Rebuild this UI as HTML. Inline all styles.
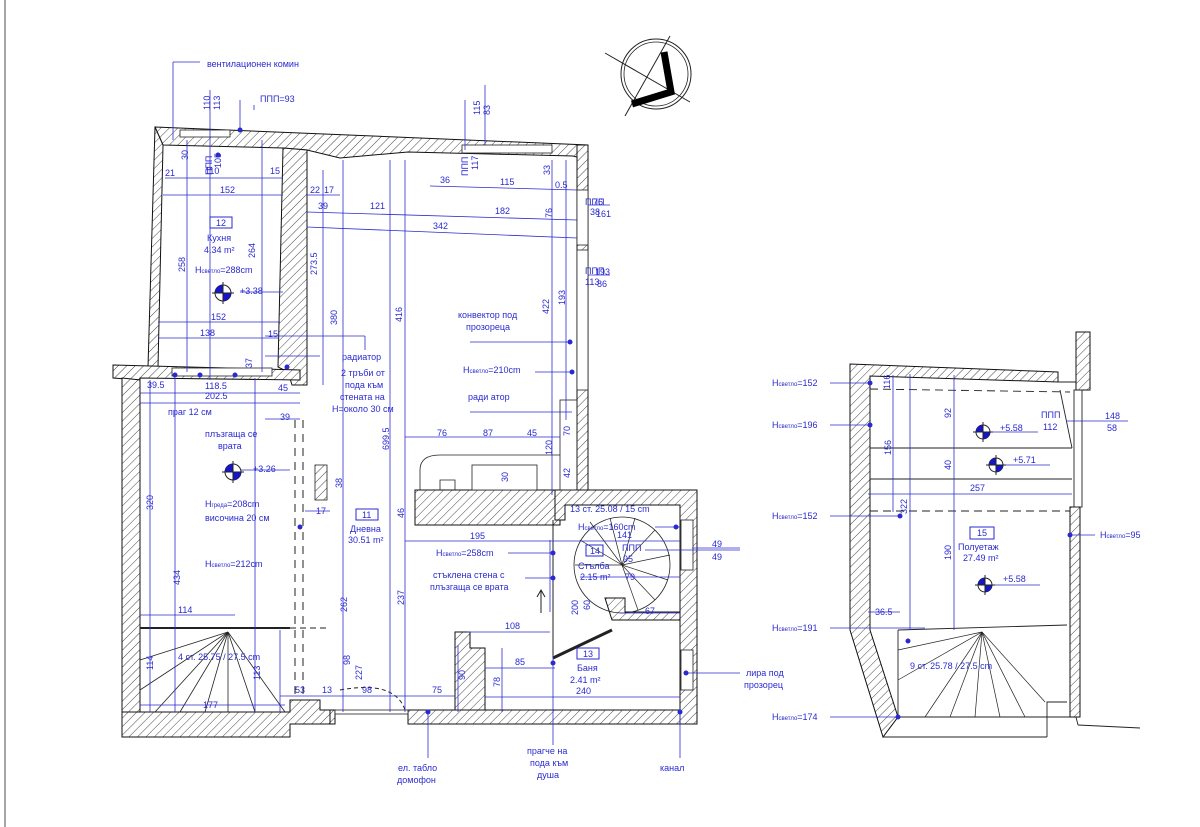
<!DOCTYPE html>
<html><head><meta charset="utf-8"><style>
html,body{margin:0;padding:0;background:#fff;}
svg{display:block;}
text{font-family:"Liberation Sans",sans-serif;font-size:9px;fill:#2a2ad0;}
.k{fill:#222;}
</style></head><body>
<svg width="1200" height="827" viewBox="0 0 1200 827" xmlns="http://www.w3.org/2000/svg">
<defs>
<pattern id="h" width="6" height="6" patternUnits="userSpaceOnUse" patternTransform="rotate(45)">
<rect width="6" height="6" fill="#fff"/><line x1="0" y1="0" x2="0" y2="6" stroke="#333" stroke-width="0.9"/>
</pattern>
</defs>
<line x1="5" y1="0" x2="5" y2="827" stroke="#888" stroke-width="1.5"/>

<!-- north arrow -->
<g stroke="#222" fill="none">
<circle cx="656" cy="74" r="35" stroke-width="1"/><circle cx="656" cy="74" r="32" stroke-width="0.8"/>
<line x1="605" y1="53" x2="690" y2="102"/><line x1="625" y1="116" x2="670" y2="36"/>
<polyline points="664,52 671,92 632,104" stroke="#000" stroke-width="7" stroke-linejoin="miter"/>
</g>

<!-- ===== MAIN PLAN WALLS ===== -->
<g stroke="#111" stroke-width="1" fill="url(#h)">
<!-- top wall -->
<polygon points="155,127 588,145 588,160 573,156 408,152 340,158 307,150 283,148 163,145"/>
<!-- kitchen left wall -->
<polygon points="155,127 163,145 158,367 148,367"/>
<!-- kitchen right walls -->
<polygon points="283,148 307,150 307,385 292,385 288,372 278,367"/>
<!-- kitchen bottom / left room top -->
<polygon points="113,365 300,370 300,380 140,378 140,380 113,378"/>
<!-- left outer wall -->
<polygon points="122,378 140,380 140,712 122,712"/>
<!-- bottom-left wall -->
<polygon points="122,712 290,712 290,700 320,700 320,710 330,710 330,724 290,724 290,737 122,737"/>
<!-- main bottom wall -->
<polygon points="330,710 335,710 335,724 330,724"/>
<polygon points="408,710 695,710 695,724 408,724"/>
<!-- right wall living -->
<polygon points="577,145 588,145 588,495 577,495"/>
<!-- counter block -->
<polygon points="415,490 560,490 560,525 415,525"/>
<!-- stair block -->
<polygon points="555,490 697,490 697,724 680,724 680,505 565,505 565,520 555,520"/>
<!-- bath left L -->
<polygon points="455,632 470,632 470,648 485,648 485,710 455,710"/>
<!-- bath top wall -->
<polygon points="605,598 625,598 625,612 680,612 680,620 612,620"/>
</g>
<!-- window frames -->
<g stroke="#222" fill="#fff" stroke-width="0.8">
<rect x="180" y="130" width="50" height="7"/><rect x="462" y="145" width="90" height="8"/>
<rect x="577" y="190" width="11" height="55"/><rect x="577" y="250" width="11" height="140"/>
<rect x="172" y="368" width="100" height="8"/>
<rect x="335" y="710" width="73" height="4"/>
<rect x="681" y="520" width="12" height="50"/><rect x="681" y="650" width="12" height="40"/>
<rect x="560" y="400" width="17" height="90" fill="none"/>
<rect x="315" y="465" width="12" height="35" fill="url(#h)"/>
<path d="M440,490 V480 H455 V490 M420,490 V470 Q420,455 440,455 H560" fill="none"/>
<rect x="472" y="465" width="65" height="25"/>
</g>
<!-- inner lines -->
<g stroke="#222" fill="none" stroke-width="1">
<line x1="140" y1="628" x2="290" y2="628" stroke-width="2"/>
<line x1="290" y1="628" x2="330" y2="628" stroke-dasharray="6,4"/>
<line x1="295" y1="420" x2="295" y2="700" stroke-dasharray="8,6"/>
<line x1="303" y1="420" x2="303" y2="700" stroke-dasharray="8,6"/>
<path d="M340,690 Q395,680 405,710" stroke-dasharray="4,3"/>
<line x1="553" y1="520" x2="553" y2="658"/>
<line x1="553" y1="658" x2="612" y2="630" stroke-width="3"/>
<path d="M541,613 V590 M537,597 L541,590 L545,597"/>
<!-- stair fan left -->
<g stroke-width="0.8">
<line x1="228" y1="632" x2="140" y2="660"/><line x1="228" y1="632" x2="140" y2="690"/>
<line x1="228" y1="632" x2="155" y2="712"/><line x1="228" y1="632" x2="180" y2="712"/>
<line x1="228" y1="632" x2="205" y2="712"/><line x1="228" y1="632" x2="228" y2="712"/>
<line x1="228" y1="632" x2="255" y2="712"/><line x1="228" y1="632" x2="285" y2="712"/>
</g>
<!-- spiral stair -->
<circle cx="622" cy="565" r="48" stroke-width="0.8"/>
<g stroke-width="0.7">
<line x1="622" y1="565" x2="580" y2="540"/><line x1="622" y1="565" x2="590" y2="522"/>
<line x1="622" y1="565" x2="610" y2="518"/><line x1="622" y1="565" x2="635" y2="518"/>
<line x1="622" y1="565" x2="655" y2="530"/><line x1="622" y1="565" x2="670" y2="555"/>
<line x1="622" y1="565" x2="668" y2="580"/><line x1="622" y1="565" x2="655" y2="600"/>
<line x1="622" y1="565" x2="638" y2="610"/><line x1="622" y1="565" x2="575" y2="565"/>
</g>
</g>

<!-- ===== DIMENSIONS (blue) ===== -->
<g stroke="#2a2ad0" stroke-width="0.8" fill="none">
<!-- verticals -->
<line x1="173" y1="62" x2="173" y2="140"/><line x1="173" y1="62" x2="200" y2="62"/>
<line x1="210" y1="90" x2="210" y2="380"/><line x1="240" y1="100" x2="240" y2="130"/>
<line x1="187" y1="140" x2="187" y2="372"/><line x1="262" y1="140" x2="262" y2="372"/>
<line x1="254" y1="110" x2="254" y2="105"/>
<line x1="323" y1="170" x2="323" y2="385"/><line x1="343" y1="160" x2="343" y2="712"/>
<line x1="390" y1="160" x2="390" y2="712"/><line x1="405" y1="160" x2="405" y2="712"/>
<line x1="552" y1="160" x2="552" y2="495"/><line x1="566" y1="160" x2="566" y2="420"/>
<line x1="465" y1="100" x2="465" y2="150"/><line x1="485" y1="85" x2="485" y2="145"/>
<line x1="150" y1="380" x2="150" y2="712"/><line x1="175" y1="378" x2="175" y2="712"/>
<line x1="255" y1="378" x2="255" y2="712"/><line x1="280" y1="630" x2="280" y2="712"/>
<line x1="458" y1="645" x2="458" y2="712"/><line x1="502" y1="648" x2="502" y2="712"/>
<line x1="550" y1="540" x2="550" y2="612"/>
<!-- horizontals -->
<line x1="165" y1="178" x2="283" y2="178"/><line x1="163" y1="195" x2="283" y2="195"/>
<line x1="158" y1="322" x2="280" y2="322"/><line x1="158" y1="338" x2="278" y2="338"/>
<line x1="307" y1="195" x2="340" y2="195"/><line x1="307" y1="212" x2="577" y2="220"/>
<line x1="307" y1="227" x2="577" y2="238"/><line x1="430" y1="186" x2="577" y2="190"/>
<line x1="140" y1="393" x2="300" y2="393"/><line x1="140" y1="403" x2="300" y2="403"/>
<line x1="265" y1="419" x2="300" y2="419"/>
<line x1="405" y1="437" x2="560" y2="437"/>
<line x1="405" y1="541" x2="680" y2="541"/>
<line x1="140" y1="615" x2="235" y2="615"/>
<line x1="140" y1="705" x2="285" y2="705"/>
<line x1="280" y1="696" x2="405" y2="696"/><line x1="405" y1="696" x2="455" y2="696"/>
<line x1="467" y1="632" x2="550" y2="632"/>
<line x1="485" y1="668" x2="555" y2="668"/><line x1="485" y1="697" x2="680" y2="697"/>
<line x1="620" y1="613" x2="680" y2="613"/>
<line x1="580" y1="577" x2="680" y2="577"/>
<line x1="305" y1="511" x2="330" y2="511"/>
<!-- leaders -->
<line x1="240" y1="292" x2="283" y2="292"/>
<line x1="235" y1="470" x2="290" y2="470"/>
<line x1="265" y1="336" x2="365" y2="336"/><line x1="365" y1="336" x2="365" y2="350"/>
<line x1="265" y1="356" x2="320" y2="356"/>
<line x1="470" y1="342" x2="570" y2="342"/>
<line x1="535" y1="372" x2="572" y2="372"/>
<line x1="470" y1="412" x2="572" y2="412"/>
<line x1="508" y1="553" x2="555" y2="553"/><line x1="525" y1="578" x2="555" y2="578"/>
<line x1="655" y1="527" x2="680" y2="527"/>
<line x1="645" y1="550" x2="740" y2="550"/>
<line x1="686" y1="673" x2="740" y2="673"/>
<line x1="428" y1="712" x2="428" y2="758"/><line x1="553" y1="655" x2="553" y2="745"/>
<line x1="680" y1="712" x2="680" y2="758"/>
<line x1="588" y1="205" x2="610" y2="205"/><line x1="588" y1="275" x2="610" y2="275"/>
<line x1="692" y1="548" x2="740" y2="548"/>
</g>
<g fill="#2a2ad0">
<circle cx="218" cy="155" r="2.5"/><circle cx="240" cy="130" r="2.5"/>
<circle cx="175" cy="375" r="2.5"/><circle cx="200" cy="375" r="2.5"/><circle cx="235" cy="375" r="2.5"/>
<circle cx="287" cy="367" r="2.5"/><circle cx="570" cy="342" r="2.5"/><circle cx="572" cy="372" r="2.5"/>
<circle cx="553" cy="553" r="2.5"/><circle cx="553" cy="578" r="2.5"/><circle cx="428" cy="712" r="2.5"/>
<circle cx="553" cy="663" r="2.5"/><circle cx="680" cy="712" r="2.5"/><circle cx="676" cy="527" r="2.5"/>
<circle cx="686" cy="673" r="2.5"/><circle cx="300" cy="527" r="2.5"/>
</g>
<!-- level markers -->
<g>
<g transform="translate(223,293)"><circle r="8" fill="#fff" stroke="#222"/><path d="M0,-8 A8,8 0 0,0 -8,0 L0,0Z M0,8 A8,8 0 0,0 8,0 L0,0Z" fill="#1616c8"/><line x1="0" y1="-11" x2="0" y2="11" stroke="#222"/><line x1="-11" y1="0" x2="11" y2="0" stroke="#222"/></g>
<g transform="translate(233,472)"><circle r="8" fill="#fff" stroke="#222"/><path d="M0,-8 A8,8 0 0,0 -8,0 L0,0Z M0,8 A8,8 0 0,0 8,0 L0,0Z" fill="#1616c8"/><line x1="0" y1="-11" x2="0" y2="11" stroke="#222"/><line x1="-11" y1="0" x2="11" y2="0" stroke="#222"/></g>
</g>

<!-- labels main plan -->
<text x="207" y="67">вентилационен комин</text>
<text x="260" y="102">ППП=93</text>
<text transform="translate(210,110) rotate(-90)">110</text>
<text transform="translate(220,110) rotate(-90)">113</text>
<text transform="translate(480,115) rotate(-90)">115</text>
<text transform="translate(490,115) rotate(-90)">83</text>
<text transform="translate(188,160) rotate(-90)">30</text>
<text transform="translate(212,175) rotate(-90)">ППП</text>
<text transform="translate(221,168) rotate(-90)">105</text>
<text transform="translate(468,176) rotate(-90)">ППП</text>
<text transform="translate(478,170) rotate(-90)">117</text>
<text x="165" y="176">21</text><text x="205" y="174">110</text><text x="270" y="174">15</text>
<text x="220" y="193">152</text>
<rect x="210" y="217" width="22" height="11" fill="none" stroke="#2a2ad0"/>
<text x="216" y="226">12</text>
<text x="207" y="241">Кухня</text><text x="204" y="253">4.34 m²</text>
<text x="195" y="273">H<tspan font-size="6">светло</tspan>=288cm</text>
<text x="240" y="294">+3.38</text>
<text transform="translate(185,272) rotate(-90)">258</text>
<text transform="translate(255,258) rotate(-90)">264</text>
<text x="211" y="320">152</text><text x="200" y="336">138</text>
<text x="268" y="337">15</text><text transform="translate(252,368) rotate(-90)">37</text>
<text x="310" y="193">22</text><text x="324" y="193">17</text><text x="318" y="209">39</text>
<text x="370" y="209">121</text><text x="495" y="214">182</text><text x="433" y="229">342</text>
<text x="440" y="183">36</text><text x="500" y="185">115</text><text x="555" y="188">0.5</text>
<text transform="translate(550,175) rotate(-90)">33</text>
<text x="585" y="205">ППП</text><text x="590" y="215">38</text>
<text transform="translate(552,218) rotate(-90)">76</text>
<text x="593" y="205">76</text><text x="596" y="217">161</text>
<text x="585" y="274">ППП</text><text x="585" y="285">113</text>
<text x="595" y="275">193</text><text x="597" y="287">86</text>
<text transform="translate(549,314) rotate(-90)">422</text>
<text transform="translate(565,305) rotate(-90)">193</text>
<text transform="translate(317,275) rotate(-90)">273.5</text>
<text transform="translate(337,325) rotate(-90)">380</text>
<text transform="translate(402,322) rotate(-90)">416</text>
<text transform="translate(389,450) rotate(-90)">699.5</text>
<text x="458" y="318">конвектор под</text><text x="466" y="330">прозореца</text>
<text x="342" y="360">радиатор</text>
<text x="341" y="376">2 тръби от</text><text x="345" y="388">пода към</text>
<text x="340" y="400">стената на</text><text x="332" y="412">H=около 30 см</text>
<text x="463" y="373">H<tspan font-size="6">светло</tspan>=210cm</text>
<text x="468" y="400">ради атор</text>
<text x="147" y="388">39.5</text><text x="205" y="389">118.5</text><text x="205" y="399">202.5</text>
<text x="278" y="391">45</text><text x="280" y="420">39</text>
<text x="168" y="415">праг 12 см</text>
<text x="205" y="437">плъзгаща се</text><text x="218" y="449">врата</text>
<text x="253" y="472">+3.26</text>
<text x="205" y="507">H<tspan font-size="6">греда</tspan>=208cm</text>
<text x="205" y="521">височина 20 см</text>
<text x="205" y="567">H<tspan font-size="6">светло</tspan>=212cm</text>
<text x="316" y="514">17</text><text transform="translate(342,488) rotate(-90)">38</text>
<text transform="translate(153,510) rotate(-90)">320</text>
<text transform="translate(180,585) rotate(-90)">434</text>
<text x="178" y="613">114</text>
<text x="178" y="660">4 ст. 25.75 / 27.5 cm</text>
<text transform="translate(153,670) rotate(-90)">114</text>
<text transform="translate(260,680) rotate(-90)">113</text>
<text x="203" y="708">177</text>
<text x="295" y="693">53</text><text x="322" y="693">13</text><text x="362" y="693">98</text><text x="432" y="693">75</text>
<text transform="translate(350,665) rotate(-90)">98</text>
<text transform="translate(362,680) rotate(-90)">227</text>
<text transform="translate(347,612) rotate(-90)">262</text>
<text transform="translate(404,605) rotate(-90)">237</text>
<text transform="translate(404,518) rotate(-90)">46</text>
<rect x="356" y="509" width="22" height="11" fill="none" stroke="#2a2ad0"/>
<text x="362" y="518">11</text>
<text x="350" y="532">Дневна</text><text x="348" y="543">30.51 m²</text>
<text x="437" y="436">76</text><text x="483" y="436">87</text><text x="527" y="436">45</text>
<text transform="translate(570,436) rotate(-90)">70</text>
<text transform="translate(552,455) rotate(-90)">120</text>
<text transform="translate(570,478) rotate(-90)">42</text>
<text transform="translate(508,482) rotate(-90)">30</text>
<text x="470" y="539">195</text>
<text x="436" y="556">H<tspan font-size="6">светло</tspan>=258cm</text>
<text x="433" y="578">стъклена стена с</text><text x="430" y="590">плъзгаща се врата</text>
<text x="570" y="512">13 ст. 25.08 / 15 cm</text>
<text x="578" y="530">H<tspan font-size="6">светло</tspan>=160cm</text>
<text x="617" y="538">141</text>
<rect x="586" y="545" width="17" height="11" fill="none" stroke="#2a2ad0"/>
<text x="590" y="554">14</text>
<text x="622" y="551">ППП</text><text x="623" y="562">95</text>
<text x="578" y="569">Стълба</text><text x="580" y="580">2.15 m²</text>
<text x="625" y="580">79</text><text x="645" y="614">67</text>
<text x="712" y="547">49</text><text x="712" y="560">49</text>
<text transform="translate(578,615) rotate(-90)">200</text>
<text transform="translate(590,610) rotate(-90)">60</text>
<text x="505" y="629">108</text>
<text transform="translate(465,680) rotate(-90)">90</text>
<text transform="translate(500,687) rotate(-90)">78</text>
<text x="515" y="665">85</text>
<rect x="577" y="648" width="22" height="11" fill="none" stroke="#2a2ad0"/>
<text x="583" y="657">13</text>
<text x="577" y="671">Баня</text><text x="570" y="683">2.41 m²</text><text x="576" y="694">240</text>
<text x="746" y="676">лира под</text><text x="744" y="688">прозорец</text>
<text x="398" y="771">ел. табло</text><text x="397" y="783">домофон</text>
<text x="527" y="754">прагче на</text><text x="530" y="766">пода към</text><text x="537" y="778">душа</text>
<text x="660" y="771">канал</text>

<!-- ===== RIGHT PLAN ===== -->
<g stroke="#111" stroke-width="1" fill="url(#h)">
<polygon points="850,364 1058,372 1058,382 870,376 870,630 898,717 883,737 850,630"/>
<polygon points="1070,507 1080,507 1080,717 1070,717"/>
<polygon points="1076,332 1090,332 1090,390 1076,390"/>
</g>
<g stroke="#222" fill="none" stroke-width="0.9">
<line x1="883" y1="737" x2="1047" y2="737"/><line x1="898" y1="717" x2="1070" y2="717"/>
<polyline points="1047,737 1047,702 1067,702"/>
<line x1="1076" y1="717" x2="1078" y2="725"/><line x1="1078" y1="725" x2="1140" y2="728"/>
<line x1="1058" y1="382" x2="1076" y2="382"/>
<rect x="1074" y="390" width="8" height="117"/>
<line x1="870" y1="448" x2="1072" y2="448"/><line x1="870" y1="479" x2="1072" y2="479"/>
<line x1="870" y1="389" x2="1070" y2="392" stroke-dasharray="8,5"/>
<line x1="870" y1="511" x2="1070" y2="511" stroke-dasharray="8,5"/>
<line x1="1060" y1="390" x2="1072" y2="448"/>
<line x1="898" y1="630" x2="1067" y2="625"/>
<line x1="898" y1="630" x2="898" y2="717"/>
<g stroke-width="0.7">
<line x1="982" y1="632" x2="898" y2="650"/><line x1="982" y1="632" x2="898" y2="680"/>
<line x1="982" y1="632" x2="925" y2="717"/><line x1="982" y1="632" x2="950" y2="717"/>
<line x1="982" y1="632" x2="975" y2="717"/><line x1="982" y1="632" x2="1000" y2="717"/>
<line x1="982" y1="632" x2="1025" y2="717"/><line x1="982" y1="632" x2="1045" y2="702"/>
</g>
</g>
<g stroke="#2a2ad0" stroke-width="0.8" fill="none">
<line x1="830" y1="383" x2="870" y2="383"/><line x1="830" y1="425" x2="870" y2="425"/>
<line x1="830" y1="516" x2="900" y2="516"/><line x1="830" y1="628" x2="925" y2="628"/>
<line x1="830" y1="717" x2="898" y2="717"/><line x1="1070" y1="535" x2="1095" y2="535"/>
<line x1="1066" y1="421" x2="1128" y2="421"/>
<line x1="893" y1="375" x2="893" y2="512"/><line x1="910" y1="374" x2="910" y2="630"/>
<line x1="954" y1="375" x2="954" y2="630"/>
<line x1="868" y1="494" x2="1072" y2="494"/><line x1="868" y1="612" x2="900" y2="612"/>
<line x1="975" y1="432" x2="1038" y2="432"/><line x1="988" y1="465" x2="1050" y2="465"/>
<line x1="975" y1="585" x2="1040" y2="585"/>
</g>
<g fill="#2a2ad0"><circle cx="870" cy="383" r="2.5"/><circle cx="870" cy="425" r="2.5"/><circle cx="900" cy="516" r="2.5"/><circle cx="908" cy="641" r="2.5"/><circle cx="898" cy="717" r="2.5"/><circle cx="1070" cy="535" r="2.5"/></g>
<g transform="translate(983,432)"><circle r="7" fill="#fff" stroke="#222"/><path d="M0,-7 A7,7 0 0,0 -7,0 L0,0Z M0,7 A7,7 0 0,0 7,0 L0,0Z" fill="#1616c8"/><line x1="0" y1="-10" x2="0" y2="10" stroke="#222"/><line x1="-10" y1="0" x2="10" y2="0" stroke="#222"/></g>
<g transform="translate(996,465)"><circle r="7" fill="#fff" stroke="#222"/><path d="M0,-7 A7,7 0 0,0 -7,0 L0,0Z M0,7 A7,7 0 0,0 7,0 L0,0Z" fill="#1616c8"/><line x1="0" y1="-10" x2="0" y2="10" stroke="#222"/><line x1="-10" y1="0" x2="10" y2="0" stroke="#222"/></g>
<g transform="translate(985,585)"><circle r="7" fill="#fff" stroke="#222"/><path d="M0,-7 A7,7 0 0,0 -7,0 L0,0Z M0,7 A7,7 0 0,0 7,0 L0,0Z" fill="#1616c8"/><line x1="0" y1="-10" x2="0" y2="10" stroke="#222"/><line x1="-10" y1="0" x2="10" y2="0" stroke="#222"/></g>
<text x="772" y="386">H<tspan font-size="6">светло</tspan>=152</text>
<text x="772" y="428">H<tspan font-size="6">светло</tspan>=196</text>
<text x="772" y="519">H<tspan font-size="6">светло</tspan>=152</text>
<text x="772" y="631">H<tspan font-size="6">светло</tspan>=191</text>
<text x="772" y="720">H<tspan font-size="6">светло</tspan>=174</text>
<text x="1100" y="538">H<tspan font-size="6">светло</tspan>=95</text>
<text x="1000" y="431">+5.58</text><text x="1013" y="463">+5.71</text><text x="1003" y="582">+5.58</text>
<text x="1041" y="418">ППП</text><text x="1043" y="430">112</text>
<text x="1105" y="419">148</text><text x="1107" y="431">58</text>
<text transform="translate(890,389) rotate(-90)">116</text>
<text transform="translate(951,418) rotate(-90)">92</text>
<text transform="translate(891,455) rotate(-90)">156</text>
<text transform="translate(951,470) rotate(-90)">40</text>
<text transform="translate(907,514) rotate(-90)">322</text>
<text transform="translate(951,560) rotate(-90)">190</text>
<text x="970" y="491">257</text>
<rect x="970" y="527" width="24" height="12" fill="none" stroke="#2a2ad0"/>
<text x="977" y="536">15</text>
<text x="958" y="550">Полуетаж</text><text x="963" y="561">27.49 m²</text>
<text x="875" y="615">36.5</text>
<text x="910" y="669">9 ст. 25.78 / 27.5 cm</text>
</svg>
</body></html>
